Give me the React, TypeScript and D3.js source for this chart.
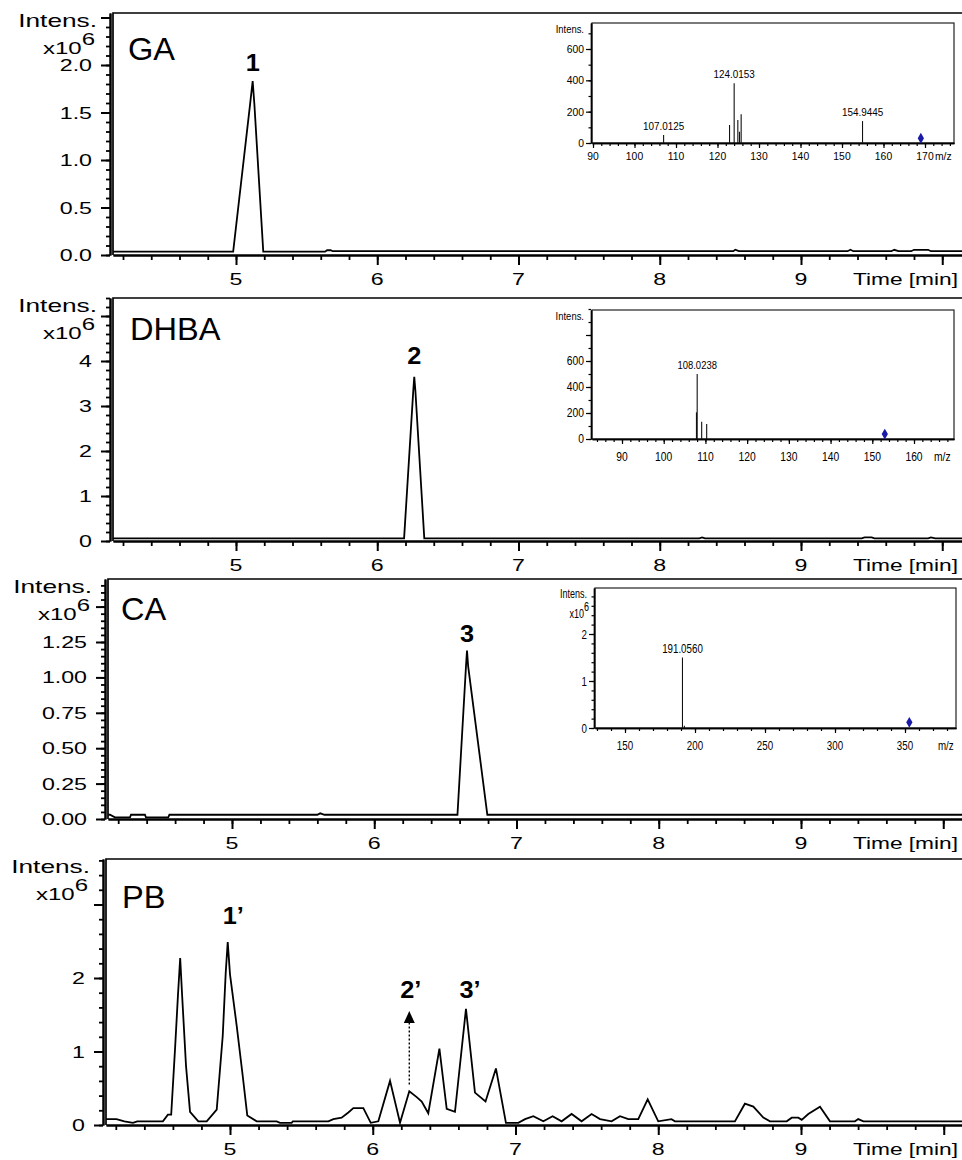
import React, { useEffect, useRef } from "react";
import * as d3 from "d3";

const width = 962;
const height = 1160;
const font = "'Liberation Sans', Arial, sans-serif";

// chromatograms: [time (min), intensity (x10^6)]
const panelNames = ["GA", "DHBA", "CA", "PB"];

const gaTrace = [
  [4.13, 0.035], [4.98, 0.035], [5.1, 1.59], [5.118, 1.83], [5.13, 1.59], [5.193, 0.035],
  [5.63, 0.035], [5.645, 0.05], [5.67, 0.05], [5.685, 0.04], [8.52, 0.04], [8.535, 0.055],
  [8.56, 0.04], [9.33, 0.04], [9.35, 0.055], [9.37, 0.04], [9.64, 0.04], [9.66, 0.055],
  [9.69, 0.04], [9.78, 0.04], [9.8, 0.055], [9.9, 0.055], [9.92, 0.04], [10.14, 0.04],
];

const dhbaTrace = [
  [4.13, 0.06], [6.19, 0.06], [6.255, 3.34], [6.262, 3.65], [6.27, 3.34], [6.333, 0.06],
  [8.28, 0.06], [8.3, 0.08], [8.32, 0.06], [9.43, 0.06], [9.45, 0.08], [9.5, 0.08],
  [9.52, 0.06], [9.9, 0.06], [9.92, 0.08], [9.95, 0.06], [10.14, 0.06],
];

const caTrace = [
  [4.13, 0.03], [4.142, 0.03], [4.177, 0.012], [4.283, 0.012], [4.29, 0.03], [4.388, 0.03],
  [4.395, 0.012], [4.552, 0.012], [4.56, 0.03], [5.6, 0.03], [5.62, 0.04], [5.65, 0.03],
  [6.585, 0.03], [6.645, 1.08], [6.652, 1.19], [6.66, 1.08], [6.795, 0.03], [10.14, 0.03],
];

const pbTrace = [
  [4.13, 0.08], [4.205, 0.08], [4.26, 0.05], [4.32, 0.03], [4.35, 0.05], [4.53, 0.05],
  [4.565, 0.14], [4.588, 0.14], [4.616, 1.07], [4.635, 1.75], [4.651, 2.27], [4.665, 1.75],
  [4.692, 0.8], [4.72, 0.18], [4.778, 0.05], [4.837, 0.05], [4.907, 0.21], [4.949, 1.21],
  [4.97, 2.07], [4.984, 2.49], [5.0, 2.05], [5.047, 1.35], [5.089, 0.67], [5.121, 0.13],
  [5.187, 0.05], [5.327, 0.05], [5.35, 0.03], [5.432, 0.03], [5.44, 0.05], [5.689, 0.05],
  [5.724, 0.08], [5.782, 0.1], [5.829, 0.17], [5.864, 0.23], [5.934, 0.23], [5.986, 0.03],
  [6.039, 0.05], [6.121, 0.6], [6.191, 0.03], [6.256, 0.46], [6.308, 0.38], [6.343, 0.32],
  [6.389, 0.16], [6.467, 1.04], [6.518, 0.22], [6.576, 0.18], [6.653, 1.58], [6.716, 0.44],
  [6.79, 0.32], [6.863, 0.77], [6.933, 0.03], [7.02, 0.03], [7.067, 0.08], [7.125, 0.12],
  [7.195, 0.05], [7.26, 0.12], [7.323, 0.05], [7.393, 0.15], [7.463, 0.05], [7.533, 0.15],
  [7.592, 0.08], [7.673, 0.05], [7.732, 0.12], [7.79, 0.08], [7.86, 0.08], [7.926, 0.35],
  [8.0, 0.05], [8.093, 0.08], [8.117, 0.05], [8.537, 0.05], [8.607, 0.29], [8.666, 0.25],
  [8.736, 0.1], [8.783, 0.05], [8.9, 0.05], [8.935, 0.1], [8.981, 0.1], [9.005, 0.07],
  [9.051, 0.15], [9.133, 0.25], [9.203, 0.05], [9.378, 0.05], [9.401, 0.08], [9.437, 0.05],
  [10.14, 0.05],
];

const traces = [gaTrace, dhbaTrace, caTrace, pbTrace];

// y ticks per panel
const yMajorSteps = [0.5, 1, 0.25, 1];
const yMinorSteps = [0.1, 0.2, 0.05, 0.2];
const yFormats = [".1f", "d", ".2f", "d"];

// time axis
const timeMajor = [5, 6, 7, 8, 9, 10];
const timeLabels = [5, 6, 7, 8, 9];
const timeMinor = d3.range(21, 51).map((d) => d / 5);

// peak numbers (label baseline in data units)
const peakLabels = [
  { panel: 0, text: "1", t: 5.118, v: 1.94 },
  { panel: 1, text: "2", t: 6.262, v: 3.94 },
  { panel: 2, text: "3", t: 6.652, v: 1.25 },
  { panel: 3, text: "1\u2019", t: 5.023, v: 2.73 },
  { panel: 3, text: "2\u2019", t: 6.266, v: 1.73 },
  { panel: 3, text: "3\u2019", t: 6.681, v: 1.73 },
];
const arrow2 = { t: 6.256, from: 0.55, to: 1.55 };

// MS spectra in the insets: [m/z, intensity]
const gaSpectrum = [
  [107.0125, 51], [122.9, 115], [124.0153, 381], [124.9, 147], [125.3, 72], [125.7, 183],
  [154.9445, 140],
];
const gaPeakLabels = [107.0125, 124.0153, 154.9445];
const gaPrecursor = [169.0, 30];

const dhbaSpectrum = [[107.85, 205], [108.0238, 500], [109.1, 133], [110.3, 115]];
const dhbaPeakLabels = [108.0238];
const dhbaPrecursor = [153.0, 38];

const caSpectrum = [[191.056, 1.5], [192.4, 0.05]];
const caPeakLabels = [191.056];
const caPrecursor = [353.1, 0.12];

// layout of the four chromatogram panels
const layout = [
  { top: 13, axisY: 255, left: 113, x5: 236, yRef: 2.0, yRefPx: 65, nameX: 128, nameY: 60 },
  { top: 298, axisY: 541, left: 113, x5: 236, yRef: 4, yRefPx: 361, nameX: 130, nameY: 340 },
  { top: 579, axisY: 819, left: 108, x5: 232, yRef: 1.25, yRefPx: 642, nameX: 121, nameY: 620 },
  { top: 859, axisY: 1125, left: 106, x5: 230, yRef: 2, yRefPx: 978, nameX: 122, nameY: 908 },
];

const insets = [
  {
    spec: gaSpectrum, labels: gaPeakLabels, prec: gaPrecursor,
    x0: 592, y0: 23, x1: 954, y1: 143, xr: [90, 593, 170, 925], yr: [600, 49],
    xMajor: d3.range(90, 171, 10), xMinor: d3.range(90, 177, 2),
    yMajor: [0, 200, 400, 600], yMinor: d3.range(0, 701, 100), yFmt: "d", yLab: [0, 200, 400, 600],
    fs: 11.5, sx: 0.9, xLabDy: 17, mzX: 935, exp: false, lblFs: 11,
  },
  {
    spec: dhbaSpectrum, labels: dhbaPeakLabels, prec: dhbaPrecursor,
    x0: 592, y0: 310, x1: 954, y1: 439, xr: [90, 622, 160, 914], yr: [600, 361],
    xMajor: d3.range(90, 161, 10), xMinor: d3.range(84, 170, 2),
    yMajor: [0, 200, 400, 600, 800], yMinor: d3.range(0, 1001, 100), yFmt: "d", yLab: [0, 200, 400, 600],
    fs: 12, sx: 0.86, xLabDy: 22, mzX: 934, exp: false, lblFs: 11,
  },
  {
    spec: caSpectrum, labels: caPeakLabels, prec: caPrecursor,
    x0: 595, y0: 588, x1: 956, y1: 728, xr: [150, 625, 350, 905], yr: [2, 634],
    xMajor: d3.range(150, 351, 50), xMinor: d3.range(130, 386, 10),
    yMajor: [0, 1, 2], yMinor: d3.range(0, 15).map((d) => d / 5), yFmt: "d", yLab: [0, 1, 2],
    fs: 13, sx: 0.75, xLabDy: 22, mzX: 938, exp: true, lblFs: 13,
  },
];

const App = () => {
  const ref = useRef<SVGSVGElement>(null);

  useEffect(() => {
    const svg = d3.select(ref.current);
    svg.selectAll("*").remove();

    const addText = (g, str, x, y, size, sx, anchor = "start", weight = "normal") =>
      g
        .append("text")
        .attr("transform", `translate(${x},${y}) scale(${sx},1)`)
        .attr("font-family", font)
        .attr("font-size", size)
        .attr("font-weight", weight)
        .attr("text-anchor", anchor)
        .attr("fill", "#000")
        .text(str);

    const styleAxis = (g, tickW, domainW) => {
      g.selectAll("text").remove();
      g.selectAll(".tick line").attr("stroke", "#000").attr("stroke-width", tickW);
      g.select(".domain").attr("stroke", "#000").attr("stroke-width", domainW);
    };

    // chromatograms
    traces.forEach((trace, i) => {
      const L = layout[i];
      const right = 964;
      const xr = d3.scaleLinear().domain([5, 9]).range([L.x5, 801]);
      const x = d3.scaleLinear().domain([xr.invert(L.left), xr.invert(right)]).range([L.left, right]);
      const yr = d3.scaleLinear().domain([0, L.yRef]).range([L.axisY, L.yRefPx]);
      const y = d3.scaleLinear().domain([0, yr.invert(L.top)]).range([L.axisY, L.top]);
      const g = svg.append("g");

      g.append("clipPath")
        .attr("id", `clip${i}`)
        .append("rect")
        .attr("x", L.left)
        .attr("y", L.top)
        .attr("width", right - L.left)
        .attr("height", L.axisY - L.top);

      // frame
      g.append("path")
        .attr("d", `M${right},${L.top}H${L.left}V${L.axisY}`)
        .attr("fill", "none")
        .attr("stroke", "#000")
        .attr("stroke-width", 1.7);

      // x axis
      g.append("g")
        .attr("transform", `translate(0,${L.axisY})`)
        .call(d3.axisBottom(x).tickValues(timeMinor).tickSize(5).tickSizeOuter(0).tickFormat(() => ""))
        .call((a) => styleAxis(a, 1.8, 2));
      g.append("g")
        .attr("transform", `translate(0,${L.axisY})`)
        .call(d3.axisBottom(x).tickValues(timeMajor).tickSize(10).tickSizeOuter(0).tickFormat(() => ""))
        .call((a) => styleAxis(a, 2, 2));
      timeLabels.forEach((t) => addText(g, String(t), x(t), L.axisY + 30, 16, 1.45, "middle"));
      addText(g, "Time [min]", 958, L.axisY + 30, 16, 1.42, "end");

      // y axis
      const yTop = y.domain()[1];
      const minor = d3.range(0, Math.floor(yTop / yMinorSteps[i] + 1e-6) + 1).map((k) => k * yMinorSteps[i]);
      const major = d3.range(0, Math.floor(yTop / yMajorSteps[i] + 1e-6) + 1).map((k) => k * yMajorSteps[i]);
      g.append("g")
        .attr("transform", `translate(${L.left - 3},0)`)
        .call(d3.axisLeft(y).tickValues(minor).tickSize(4).tickSizeOuter(0).tickFormat(() => ""))
        .call((a) => styleAxis(a, 1.8, 2));
      g.append("g")
        .attr("transform", `translate(${L.left - 3},0)`)
        .call(d3.axisLeft(y).tickValues(major).tickSize(9).tickSizeOuter(0).tickFormat(() => ""))
        .call((a) => styleAxis(a, 2, 2));
      const fmt = d3.format(yFormats[i]);
      major
        .filter((v) => y(v) > L.top + 50)
        .forEach((v) => addText(g, fmt(v), L.left - 21, y(v) + 6, 16, 1.45, "end"));

      addText(g, "Intens.", L.left - 16, L.top + 14, 17.5, 1.5, "end");
      const ex = addText(g, "x10", L.left - 18, L.top + 41, 16, 1.5, "end");
      ex.append("tspan").attr("dy", -9).text("6");

      addText(g, panelNames[i], L.nameX, L.nameY, 31, 1.05);

      // trace
      g.append("path")
        .datum(trace)
        .attr("clip-path", `url(#clip${i})`)
        .attr("fill", "none")
        .attr("stroke", "#000")
        .attr("stroke-width", 1.8)
        .attr("stroke-linejoin", "miter")
        .attr("d", d3.line().x((d) => x(d[0])).y((d) => y(d[1])));

      peakLabels
        .filter((p) => p.panel === i)
        .forEach((p) => addText(g, p.text, x(p.t), y(p.v), 23, 1.1, "middle", "bold"));

      if (i === 3) {
        const ax = x(arrow2.t);
        const tip = y(arrow2.to);
        g.append("line")
          .attr("x1", ax)
          .attr("x2", ax)
          .attr("y1", y(arrow2.from))
          .attr("y2", tip + 10)
          .attr("stroke", "#000")
          .attr("stroke-width", 1.4)
          .attr("stroke-dasharray", "2,2");
        g.append("path")
          .attr("d", `M${ax},${tip}L${ax - 5.5},${tip + 12}L${ax + 5.5},${tip + 12}Z`)
          .attr("fill", "#000");
      }
    });

    // MS insets
    insets.forEach((ins) => {
      const g = svg.append("g");
      const xr = d3.scaleLinear().domain([ins.xr[0], ins.xr[2]]).range([ins.xr[1], ins.xr[3]]);
      const x = d3.scaleLinear().domain([xr.invert(ins.x0), xr.invert(ins.x1)]).range([ins.x0, ins.x1]);
      const yr = d3.scaleLinear().domain([0, ins.yr[0]]).range([ins.y1, ins.yr[1]]);
      const y = d3.scaleLinear().domain([0, yr.invert(ins.y0)]).range([ins.y1, ins.y0]);

      g.append("rect")
        .attr("x", ins.x0)
        .attr("y", ins.y0)
        .attr("width", ins.x1 - ins.x0)
        .attr("height", ins.y1 - ins.y0)
        .attr("fill", "#fff")
        .attr("stroke", "#222")
        .attr("stroke-width", 1.2);

      g.append("g")
        .attr("transform", `translate(0,${ins.y1})`)
        .call(d3.axisBottom(x).tickValues(ins.xMinor).tickSize(3).tickSizeOuter(0).tickFormat(() => ""))
        .call((a) => styleAxis(a, 1.2, 1.6));
      g.append("g")
        .attr("transform", `translate(0,${ins.y1})`)
        .call(d3.axisBottom(x).tickValues(ins.xMajor).tickSize(5).tickSizeOuter(0).tickFormat(() => ""))
        .call((a) => styleAxis(a, 1.2, 1.6));
      g.append("g")
        .attr("transform", `translate(${ins.x0 - 1},0)`)
        .call(d3.axisLeft(y).tickValues(ins.yMinor).tickSize(2.5).tickSizeOuter(0).tickFormat(() => ""))
        .call((a) => styleAxis(a, 1.2, 1.4));
      g.append("g")
        .attr("transform", `translate(${ins.x0 - 1},0)`)
        .call(d3.axisLeft(y).tickValues(ins.yMajor).tickSize(5).tickSizeOuter(0).tickFormat(() => ""))
        .call((a) => styleAxis(a, 1.2, 1.4));

      const fmt = d3.format(ins.yFmt);
      ins.yLab.forEach((v) => addText(g, fmt(v), ins.x0 - 8, y(v) + ins.fs * 0.36, ins.fs, ins.sx, "end"));
      ins.xMajor.forEach((v) => addText(g, String(v), x(v), ins.y1 + ins.xLabDy, ins.fs, ins.sx, "middle"));
      addText(g, "m/z", ins.mzX, ins.y1 + ins.xLabDy, ins.fs, ins.sx);
      addText(g, "Intens.", ins.x0 - 8, ins.y0 + 10, ins.fs - 1, ins.sx, "end");
      if (ins.exp) {
        const ex = addText(g, "x10", ins.x0 - 6, ins.y0 + 30, ins.fs - 1, ins.sx, "end");
        ex.append("tspan").attr("dy", -7).text("6");
      }

      g.append("g")
        .selectAll("line")
        .data(ins.spec)
        .join("line")
        .attr("x1", (d) => x(d[0]))
        .attr("x2", (d) => x(d[0]))
        .attr("y1", y(0))
        .attr("y2", (d) => y(d[1]))
        .attr("stroke", "#111")
        .attr("stroke-width", 1.1);

      ins.labels.forEach((m) => {
        const pk = ins.spec.find((d) => d[0] === m);
        addText(g, d3.format(".4f")(m), x(m), y(pk[1]) - 5, ins.lblFs, ins.sx, "middle");
      });

      g.append("path")
        .attr("transform", `translate(${x(ins.prec[0])},${y(ins.prec[1])})`)
        .attr("d", d3.symbol(d3.symbolDiamond, 34)())
        .attr("fill", "#1a1aa8");
    });
  }, []);

  return (
    <svg
      ref={ref}
      width={width}
      height={height}
      viewBox={`0 0 ${width} ${height}`}
      style={{ position: "absolute", left: 0, top: 0, background: "#fff" }}
    ></svg>
  );
};

export default App;
